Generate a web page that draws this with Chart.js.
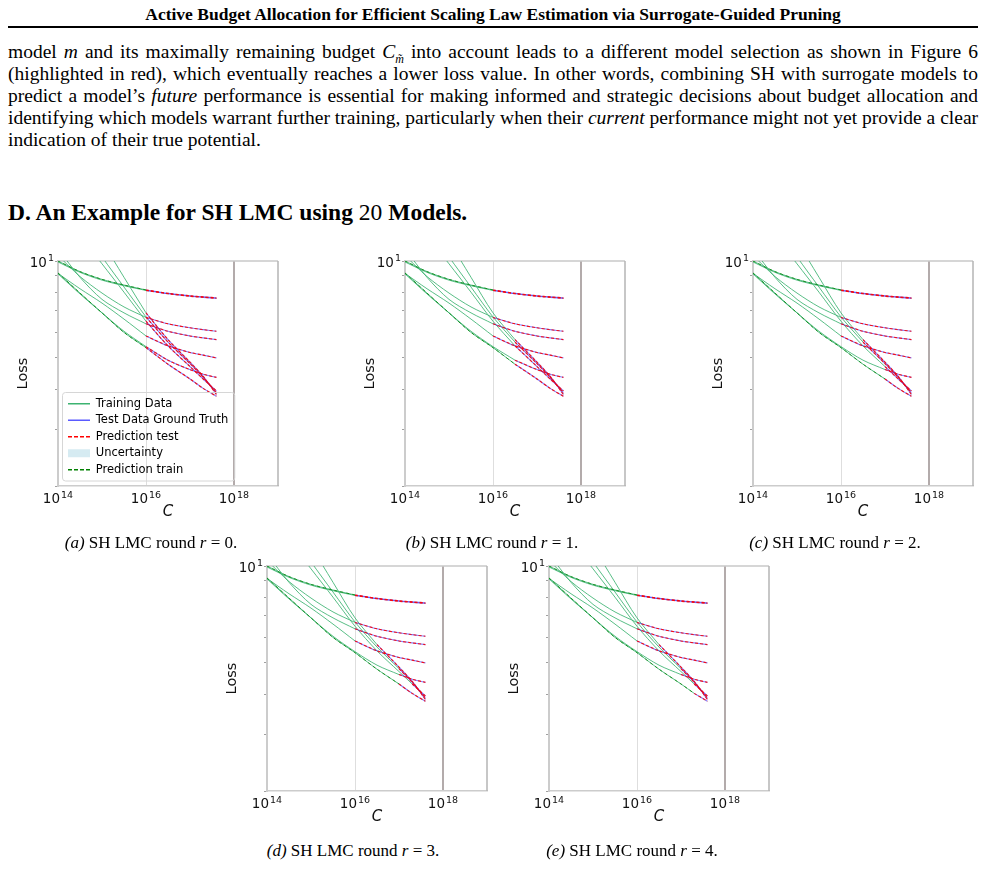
<!DOCTYPE html>
<html>
<head>
<meta charset="utf-8">
<script src="https://cdn.jsdelivr.net/npm/chart.js@4.4.1/dist/chart.umd.min.js"></script>
<style>
  body { margin:0; width:986px; height:877px; overflow:hidden; background:#fff; position:relative;
         font-family:"Liberation Serif","Times New Roman",serif; color:#000; }
  .abs { position:absolute; }
  .runhead { left:0; width:986px; top:4px; line-height:20px; text-align:center; font-weight:bold; font-size:17.5px; }
  .rule { left:8px; width:970px; top:26px; height:2px; background:#000; }
  .pl { position:absolute; left:8px; width:970px; font-size:19.5px; line-height:22px; white-space:nowrap; }
  .heading { left:8px; top:198px; line-height:28px; font-size:23.5px; font-weight:bold; }
  .heading span { font-weight:normal; }
  .cap { position:absolute; width:300px; text-align:center; font-size:17px; line-height:20px; }
  canvas { position:absolute; }
</style>
</head>
<body>
<div class="abs runhead">Active Budget Allocation for Efficient Scaling Law Estimation via Surrogate-Guided Pruning</div>
<div class="abs rule"></div>

<div class="pl just" style="top:41px"><span>model <i>m</i> and its maximally remaining budget <i>C</i><sub style="font-size:12px"><i>m̃</i></sub> into account leads to a different model selection as shown in Figure 6</span></div>
<div class="pl just" style="top:63px"><span>(highlighted in red), which eventually reaches a lower loss value. In other words, combining SH with surrogate models to</span></div>
<div class="pl just" style="top:85px"><span>predict a model’s <i>future</i> performance is essential for making informed and strategic decisions about budget allocation and</span></div>
<div class="pl just" style="top:107px"><span>identifying which models warrant further training, particularly when their <i>current</i> performance might not yet provide a clear</span></div>
<div class="pl" style="top:129px"><span>indication of their true potential.</span></div>

<div class="abs heading">D. An Example for SH LMC using <span>20</span> Models.</div>

<canvas id="r0" width="300" height="290" style="left:0px;top:245px"></canvas>
<canvas id="r1" width="300" height="290" style="left:347px;top:245px"></canvas>
<canvas id="r2" width="300" height="290" style="left:695px;top:245px"></canvas>
<canvas id="r3" width="300" height="290" style="left:209px;top:550px"></canvas>
<canvas id="r4" width="300" height="290" style="left:491px;top:550px"></canvas>

<div class="cap" style="left:1px;top:533px"><i>(a)</i> SH LMC round <i>r</i> = 0.</div>
<div class="cap" style="left:342px;top:533px"><i>(b)</i> SH LMC round <i>r</i> = 1.</div>
<div class="cap" style="left:685px;top:533px"><i>(c)</i> SH LMC round <i>r</i> = 2.</div>
<div class="cap" style="left:203px;top:841px"><i>(d)</i> SH LMC round <i>r</i> = 3.</div>
<div class="cap" style="left:482px;top:841px"><i>(e)</i> SH LMC round <i>r</i> = 4.</div>

<script>
// stretch the paragraph lines to the full text width, like the justified page
document.querySelectorAll('.pl.just').forEach(function(div) {
	var span = div.firstElementChild;
	var spaces = (span.textContent.match(/ /g) || []).length;
	var extra = (970 - span.getBoundingClientRect().width) / spaces;
	span.style.wordSpacing = extra.toFixed(2) + 'px';
});

// compute budget grid, log10(C)
var logC = [14, 14.5, 15, 15.5, 16, 16.5, 17, 17.3, 17.6];

// loss of each model on that grid (null = above the plot, not drawn)
var lossT1 = [10.0, 9.27, 8.77, 8.42, 8.13, 7.94, 7.80, 7.74, 7.69];
var lossT2 = [9.93, 9.22, 8.72, 8.38, 8.10, 7.91, 7.77, 7.71, 7.65];
var lossA1 = [10.4, 8.95, 7.95, 7.20, 6.68, 6.38, 6.20, 6.12, 6.05];
var lossA2 = [10.9, 8.90, 7.60, 6.90, 6.38, 6.05, 5.85, 5.77, 5.70];
var lossA3 = [9.15, 8.20, 7.40, 6.60, 5.85, 5.45, 5.20, 5.10, 5.00];
var lossB1 = [9.12, 7.90, 6.90, 6.05, 5.42, 4.92, 4.60, 4.45, 4.35];
var lossB2 = [9.18, 7.95, 6.90, 6.00, 5.38, 4.78, 4.30, 4.02, 3.80];
var lossS1 = [null, 12.0, 9.80, 8.00, 6.50, 5.45, 4.70, 4.30, 3.95];
var lossS2 = [null, 13.0, 10.3, 8.30, 6.70, 5.60, 4.80, 4.35, 3.90];
var lossS3 = [null, 14.5, 11.5, 8.90, 6.90, 5.70, 4.85, 4.38, 3.85];

var models = [lossT1, lossT2, lossA1, lossA2, lossA3, lossB1, lossB2, lossS1, lossS2, lossS3];
var showPredTrain = [true, false, false, false, false, false, true, false, false, false];

// index into logC where training stops, per SH round
var trainEndR0 = [4, 4, 4, 4, 4, 4, 4, 4, 4, 4];
var trainEndR1 = [4, 4, 4, 4, 4, 5, 5, 5, 5, 5];
var trainEndR2 = [4, 4, 4, 4, 4, 6, 6, 6, 5, 5];
var trainEndR3 = [4, 4, 4, 4, 4, 6, 6, 7, 6, 5];
var trainEndR4 = [4, 4, 4, 4, 4, 6, 7, 7, 6, 5];

var xTicks = [1e14, 1e16, 1e18];
var xTickExp = ['14', '16', '18'];
var yTicks = [2, 3, 4, 5, 6, 7, 8, 9, 10];
var yLabelTick = 10;
var yLabelExp = '1';

var GREEN = 'rgba(60,179,113,0.85)';
var BLUE = 'rgba(0,0,255,0.5)';
var RED = 'rgba(255,0,0,0.9)';
var DKGREEN = 'rgba(0,128,0,0.75)';

Chart.defaults.font.family = 'DejaVu Sans';
Chart.defaults.color = '#222';

function pts(loss, from, to) {
	var out = [];
	for (var i = from; i <= to; i++) {
		if (loss[i] != null) out.push({ x: Math.pow(10, logC[i]), y: loss[i] });
	}
	return out;
}

// top and right spines
var spines = {
	id: 'spines',
	beforeDatasetsDraw: function(chart) {
		var ctx = chart.ctx, a = chart.chartArea;
		ctx.save();
		ctx.lineWidth = 1.5;
		ctx.strokeStyle = '#c8c8c8';
		ctx.beginPath();
		ctx.moveTo(a.left, a.top); ctx.lineTo(a.right, a.top);
		ctx.stroke();
		ctx.strokeStyle = '#b4b4b4';
		ctx.beginPath();
		ctx.moveTo(a.right, a.top); ctx.lineTo(a.right, a.bottom);
		ctx.stroke();
		ctx.restore();
	}
};

// tick labels as 10 with a raised exponent, placed by the scales
function powLabel(ctx, base, exp, x, y, align) {
	ctx.font = '13.5px "DejaVu Sans"';
	var w1 = ctx.measureText(base).width;
	ctx.font = '9.5px "DejaVu Sans"';
	var w2 = ctx.measureText(exp).width;
	var x0 = align === 'right' ? x - w1 - w2 - 1 : x - (w1 + w2 + 1) / 2;
	ctx.font = '13.5px "DejaVu Sans"';
	ctx.fillText(base, x0, y);
	ctx.font = '9.5px "DejaVu Sans"';
	ctx.fillText(exp, x0 + w1 + 1, y - 5.5);
}
var powTicks = {
	id: 'powTicks',
	afterDraw: function(chart) {
		var ctx = chart.ctx, a = chart.chartArea;
		var xs = chart.scales.x, ys = chart.scales.y;
		ctx.save();
		ctx.fillStyle = '#111';
		ctx.textBaseline = 'alphabetic';
		ctx.textAlign = 'left';
		xTicks.forEach(function(v, i) {
			powLabel(ctx, '10', xTickExp[i], xs.getPixelForValue(v), a.bottom + 17, 'center');
		});
		powLabel(ctx, '10', yLabelExp, a.left - 4, ys.getPixelForValue(yLabelTick) + 5.5, 'right');
		ctx.restore();
	}
};

// nudge the in-plot legend and give it a frame like matplotlib
var legendBox = {
	id: 'legendBox',
	afterLayout: function(chart) {
		var lg = chart.legend;
		if (!lg || !lg.options.display) return;
		lg.left += 5; lg.right += 5;
		lg.top += 10; lg.bottom += 10.5;
	},
	afterDraw: function(chart) {
		var lg = chart.legend;
		if (!lg || !lg.options.display || !lg.legendHitBoxes.length) return;
		var l = 1e9, t = 1e9, r = -1e9, b = -1e9;
		lg.legendHitBoxes.forEach(function(h) {
			l = Math.min(l, h.left); t = Math.min(t, h.top);
			r = Math.max(r, h.left + h.width); b = Math.max(b, h.top + h.height);
		});
		var ctx = chart.ctx;
		ctx.save();
		ctx.strokeStyle = '#d6d6d6';
		ctx.lineWidth = 1;
		ctx.beginPath();
		ctx.roundRect(l - 5.5, t - 5.5, r - l + 12, b - t + 11, 3);
		ctx.stroke();
		ctx.restore();
	}
};

function makeChart(id, trainEnd, withLegend) {
	var datasets = [];
	for (var m = 0; m < models.length; m++) {
		var e = trainEnd[m];
		datasets.push({ data: pts(models[m], 0, e), borderColor: GREEN, borderWidth: 1, order: 3 });
		if (showPredTrain[m]) {
			datasets.push({ data: pts(models[m], 0, e), borderColor: DKGREEN, borderWidth: 1, borderDash: [3, 3], order: 1 });
		}
		datasets.push({ data: pts(models[m], e, logC.length - 1), borderColor: BLUE, borderWidth: 1.1, order: 2 });
		datasets.push({ data: pts(models[m], e, logC.length - 1), borderColor: RED, borderWidth: 1.1, borderDash: [3, 2], order: 0 });
	}

	var options = {
		responsive: false,
		animation: false,
		devicePixelRatio: 1,
		layout: { padding: { top: 16, right: 22, left: 0, bottom: 0 } },
		elements: { point: { radius: 0 }, line: { tension: 0.3, fill: false } },
		plugins: {
			tooltip: { enabled: false },
			legend: {
				display: withLegend,
				position: 'chartArea',
				align: 'end',
				labels: {
					usePointStyle: true,
					pointStyleWidth: 22,
					boxHeight: 8,
					padding: 5,
					color: '#222',
					font: { size: 11.5 },
					generateLabels: function() {
						return [
							{ text: 'Training Data', strokeStyle: 'rgb(60,179,113)', fillStyle: GREEN, lineWidth: 1.5, lineDash: [], pointStyle: 'line' },
							{ text: 'Test Data Ground Truth', strokeStyle: 'rgb(90,90,255)', fillStyle: BLUE, lineWidth: 1.5, lineDash: [], pointStyle: 'line' },
							{ text: 'Prediction test', strokeStyle: 'rgb(255,0,0)', fillStyle: RED, lineWidth: 1.5, lineDash: [4, 2], pointStyle: 'line' },
							{ text: 'Uncertainty', strokeStyle: 'rgba(0,0,0,0)', fillStyle: 'rgba(173,216,230,0.5)', lineWidth: 0, lineDash: [], pointStyle: 'rect' },
							{ text: 'Prediction train', strokeStyle: 'rgb(0,128,0)', fillStyle: DKGREEN, lineWidth: 1.5, lineDash: [4, 2], pointStyle: 'line' }
						];
					}
				}
			}
		},
		scales: {
			x: {
				type: 'logarithmic',
				min: 1e14,
				max: 1e19,
				afterBuildTicks: function(axis) {
					axis.ticks = xTicks.map(function(v) { return { value: v }; });
				},
				afterFit: function(axis) { axis.height = 49; },
				ticks: { autoSkip: false, maxRotation: 0, padding: 2, callback: function() { return ''; } },
				grid: {
					drawTicks: false,
					color: function(c) {
						if (!c.tick) return 'rgba(0,0,0,0)';
						if (c.tick.value === 1e16) return '#dedede';
						if (c.tick.value === 1e18) return '#b3abab';
						return 'rgba(0,0,0,0)';
					},
					lineWidth: function(c) {
						return c.tick && c.tick.value === 1e18 ? 2 : 1;
					}
				},
				border: { color: '#cccccc', width: 1.5 },
				title: {
					display: true,
					text: 'C',
					color: '#111',
					font: { size: 15, style: 'italic' },
					padding: { top: 0, bottom: 14 }
				}
			},
			y: {
				type: 'logarithmic',
				min: 2,
				max: 10,
				afterBuildTicks: function(axis) {
					axis.ticks = yTicks.map(function(v) { return { value: v }; });
				},
				afterFit: function(axis) { axis.width = 58; },
				ticks: { autoSkip: false, padding: 1, callback: function() { return ''; } },
				grid: { drawOnChartArea: false, drawTicks: true, tickLength: 3, color: '#a0a0a0' },
				border: { color: '#cccccc', width: 2 },
				title: {
					display: true,
					text: 'Loss',
					color: '#111',
					font: { size: 14.5 },
					padding: { top: 15, bottom: 0 }
				}
			}
		}
	};

	return new Chart(document.getElementById(id), {
		type: 'line',
		data: { datasets: datasets },
		options: options,
		plugins: [spines, legendBox, powTicks]
	});
}

makeChart('r0', trainEndR0, true);
makeChart('r1', trainEndR1, false);
makeChart('r2', trainEndR2, false);
makeChart('r3', trainEndR3, false);
makeChart('r4', trainEndR4, false);
</script>
</body>
</html>
